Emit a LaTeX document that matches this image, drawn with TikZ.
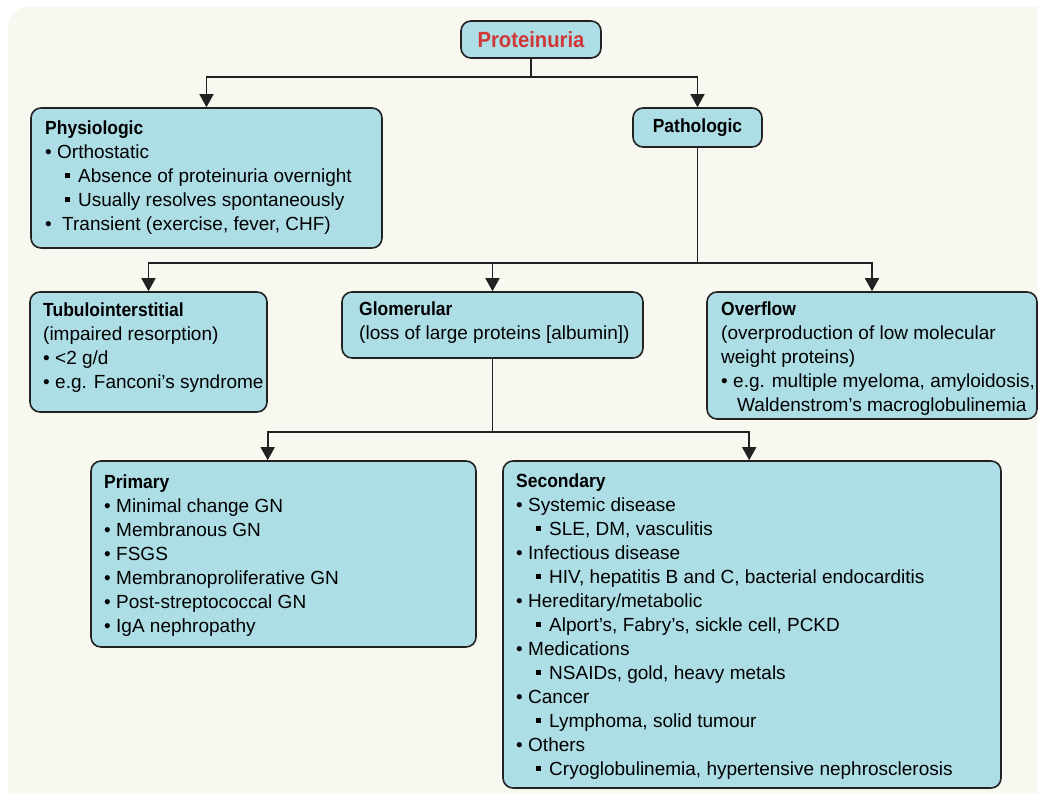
\documentclass[tikz,border=0pt]{standalone}
\usepackage{fontspec}
\setmainfont{Liberation Sans}[BoldFeatures={FakeStretch=0.92}]
\usetikzlibrary{arrows.meta}
\definecolor{boxfill}{RGB}{173,222,230}
\definecolor{bgcream}{RGB}{248,247,240}
\definecolor{titlered}{RGB}{208,56,56}
\definecolor{edgegray}{RGB}{34,34,34}
\newcommand\blt[1]{\strut\makebox[12pt][l]{\textbullet}#1}
\newcommand\sqb[1]{\strut\hspace*{20pt}\makebox[13pt][l]{\raisebox{4.5pt}{\rule{5pt}{5pt}}}#1}
\newcommand\hd[1]{\strut\textbf{#1}}
\begin{document}
\begin{tikzpicture}[x=1pt,y=-1pt,
  box/.style={draw=edgegray, line width=1.6pt, fill=boxfill, rounded corners=10pt, inner sep=0pt},
  txt/.style={anchor=north west, align=left, inner sep=0pt, font=\fontsize{19}{24}\selectfont},
  conn/.style={draw=edgegray, line width=1.6pt},
  arr/.style={conn, -{Triangle[width=14pt,length=13pt]}}]
\useasboundingbox (0,0) rectangle (1038,794);
\clip (0,0) rectangle (1038,794);
\fill[bgcream, rounded corners=20pt] (8,7) rectangle (1080,840);

% boxes
\node[box, minimum width=140pt, minimum height=37pt, text=titlered,
      font=\fontsize{22}{26}\selectfont\bfseries] (prot) at (531,39.5) {Proteinuria};
\node[box, minimum width=129pt, minimum height=39pt,
      font=\fontsize{19}{24}\selectfont\bfseries] (path) at (697.5,127.5) {Pathologic};
\node[box, minimum width=351pt, minimum height=140pt] (phys) at (206.5,178) {};
\node[box, minimum width=237pt, minimum height=120pt] (tub) at (148.5,352) {};
\node[box, minimum width=301pt, minimum height=66pt] (glom) at (492.5,325) {};
\node[box, minimum width=330pt, minimum height=127pt] (over) at (872,355.5) {};
\node[box, minimum width=385pt, minimum height=186pt] (prim) at (283.5,554) {};
\node[box, minimum width=498pt, minimum height=327pt] (sec) at (752,624.5) {};

% texts
\node[txt] (tphys) at (45,117.2) {\hd{Physiologic}\\
  \blt{Orthostatic}\\
  \sqb{Absence of proteinuria overnight}\\
  \sqb{Usually resolves spontaneously}\\
  \strut\makebox[17pt][l]{\textbullet}Transient (exercise, fever, CHF)};
\node[txt] (ttub) at (43,299.2) {\hd{Tubulointerstitial}\\
  \strut(impaired resorption)\\
  \blt{<2 g/d}\\
  \blt{e.g. Fanconi’s syndrome}};
\node[txt] (tglom) at (359,298.2) {\hd{Glomerular}\\
  \strut(loss of large proteins [albumin])};
\node[txt] (tover) at (721,298.2) {\hd{Overflow}\\
  \strut(overproduction of low molecular\\
  \strut weight proteins)\\
  \blt{e.g. multiple myeloma, amyloidosis,}\\
  \strut\hspace*{16pt}Waldenstrom’s macroglobulinemia};
\node[txt] (tprim) at (104,471.2) {\hd{Primary}\\
  \blt{Minimal change GN}\\
  \blt{Membranous GN}\\
  \blt{FSGS}\\
  \blt{Membranoproliferative GN}\\
  \blt{Post-streptococcal GN}\\
  \blt{IgA nephropathy}};
\node[txt] (tsec) at (516,470.2) {\hd{Secondary}\\
  \blt{Systemic disease}\\
  \sqb{SLE, DM, vasculitis}\\
  \blt{Infectious disease}\\
  \sqb{HIV, hepatitis B and C, bacterial endocarditis}\\
  \blt{Hereditary/metabolic}\\
  \sqb{Alport’s, Fabry’s, sickle cell, PCKD}\\
  \blt{Medications}\\
  \sqb{NSAIDs, gold, heavy metals}\\
  \blt{Cancer}\\
  \sqb{Lymphoma, solid tumour}\\
  \blt{Others}\\
  \sqb{Cryoglobulinemia, hypertensive nephrosclerosis}};

% connectors
\coordinate (j1) at (531,77);
\coordinate (j2) at (697.5,263);
\coordinate (j3) at (492.5,432);
\draw[conn] (prot.south) -- (j1);
\draw[arr] (j1) -| (phys.north);
\draw[arr] (j1) -| (path.north);
\draw[conn] (path.south) -- (j2);
\draw[arr] (j2) -| (tub.north);
\draw[arr] (j2) -| (glom.north);
\draw[arr] (j2) -| (over.north);
\draw[conn] (glom.south) -- (j3);
\draw[arr] (j3) -| ([xshift=177.5pt]prim.north west);
\draw[arr] (j3) -| ([xshift=247pt]sec.north west);
\end{tikzpicture}
\end{document}
